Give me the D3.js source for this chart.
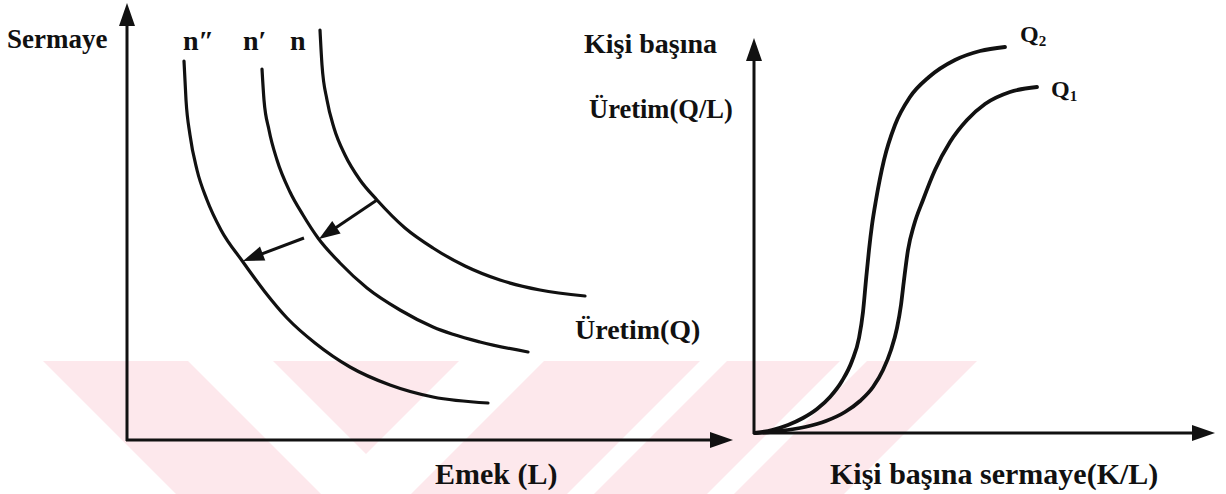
<!DOCTYPE html>
<html><head><meta charset="utf-8">
<script src="https://cdn.jsdelivr.net/npm/d3@7"></script>
<style>
body{margin:0;background:#fff}
svg{display:block}
text{font-family:"Liberation Serif","Times New Roman",serif;font-weight:bold;fill:#111}
</style>
</head><body>
<svg id="c" width="1226" height="494"></svg>
<script>
// ---- Left panel: isoquants (Emek L, Sermaye K) ----
const isoN  = [[193,410],[195,375],[200,340],[207,312],[218,285],[233,260],[250,240],[278,212],[306,192],[338,174],[373,160],[413,150],[458,144]];
const isoN1 = [[135,371],[137,340],[142,310],[150,280],[163,248],[176,225],[191,202],[213,177],[240,152],[273,130],[306,113],[353,98],[401,88]];
const isoN2 = [[57,379],[59,340],[63,305],[70,270],[80,240],[94,210],[116,178],[138,148],[160,122],[188,97],[223,73],[263,55],[306,43],[361,37]];
const isoLabels = ["n\u2033", "n\u2032", "n"];
const shiftArrows = [ {from:[250,240], to:[192,201]}, {from:[177,202], to:[116,179]} ];

// ---- Right panel: per-capita production curves ----
const curveQ2 = [[1,0],[18,3],[34,8],[49,15],[63,24],[76,36],[88,52],[98,72],[105,95],[109,121],[112,153],[115,183],[118,208],[122,233],[130,273],[141,308],[156,336],[175,356],[201,373],[226,382],[251,386]];
const curveQ1 = [[1,0],[26,2],[51,6],[72,12],[91,21],[106,32],[119,46],[129,63],[137,83],[143,105],[147,128],[150,153],[154,183],[160,208],[169,233],[181,263],[196,291],[213,313],[231,329],[256,341],[283,346]];

// ---- watermark stripes (decoration) ----
const wmStripes = [ {dir:1,x0:43,x1:188}, {dir:-1,x0:544,x1:700}, {dir:-1,x0:727,x1:840}, {dir:-1,x0:867,x1:977} ];
const wmTriangle = {x0:273, x1:459};

const svg = d3.select("#c");
svg.append("rect").attr("width",1226).attr("height",494).attr("fill","#fff");

// watermark
const wmTop = 361, wmBot = 494, wmH = wmBot - wmTop;
const wm = svg.append("g").attr("fill","#fde8ec");
wmStripes.forEach(s=>{
  const pts = [[s.x0,wmTop],[s.x1,wmTop],[s.x1+s.dir*wmH,wmBot],[s.x0+s.dir*wmH,wmBot]];
  wm.append("path").attr("d","M"+pts.join("L")+"Z");
});
{
  const t = (wmTriangle.x1-wmTriangle.x0)/2;
  wm.append("path").attr("d",`M${wmTriangle.x0},${wmTop}L${wmTriangle.x1},${wmTop}L${wmTriangle.x0+t},${wmTop+t}Z`);
}

const xL = d3.scaleLinear().domain([0,606]).range([127,733]);
const yL = d3.scaleLinear().domain([0,437]).range([440,3]);
const xR = d3.scaleLinear().domain([0,461]).range([754,1215]);
const yR = d3.scaleLinear().domain([0,395]).range([433,38]);

function axisPair(g, x, y, xMax, yMax, w){
  const x0=x(0), y0=y(0), xt=x(xMax), yt=y(yMax);
  g.append("path").attr("d",`M${x0},${y0+1}V${yt+18}`).attr("stroke","#111").attr("stroke-width",w).attr("fill","none");
  g.append("path").attr("d",`M${x0-1},${y0}H${xt-18}`).attr("stroke","#111").attr("stroke-width",w).attr("fill","none");
  g.append("path").attr("d",`M${x0},${yt}L${x0-8},${yt+23}L${x0+8},${yt+23}Z`).attr("fill","#111");
  g.append("path").attr("d",`M${xt},${y0}L${xt-23},${y0-8}L${xt-23},${y0+8}Z`).attr("fill","#111");
}
const gl = svg.append("g");
axisPair(gl, xL, yL, 606, 437, 3);
const gr = svg.append("g");
axisPair(gr, xR, yR, 461, 395, 3);

// isoquants
const lineL = d3.line().x(d=>xL(d[0])).y(d=>yL(d[1])).curve(d3.curveMonotoneX);
[isoN, isoN1, isoN2].forEach(c=>{
  gl.append("path").attr("d",lineL(c)).attr("fill","none").attr("stroke","#111").attr("stroke-width",3.2).attr("stroke-linecap","round");
});

// shift arrows
shiftArrows.forEach(a=>{
  const x1=xL(a.from[0]), y1=yL(a.from[1]), x2=xL(a.to[0]), y2=yL(a.to[1]);
  const ang = Math.atan2(y2-y1,x2-x1), L=21, W=7.5;
  const bx = x2-L*Math.cos(ang), by = y2-L*Math.sin(ang);
  gl.append("line").attr("x1",x1).attr("y1",y1).attr("x2",bx+3*Math.cos(ang)).attr("y2",by+3*Math.sin(ang)).attr("stroke","#111").attr("stroke-width",3);
  const p1=[bx+W*Math.sin(ang), by-W*Math.cos(ang)], p2=[bx-W*Math.sin(ang), by+W*Math.cos(ang)];
  gl.append("path").attr("d",`M${x2},${y2}L${p1}L${p2}Z`).attr("fill","#111");
});

// right curves
const lineR = d3.line().x(d=>xR(d[0])).y(d=>yR(d[1])).curve(d3.curveMonotoneX);
[curveQ2, curveQ1].forEach(c=>{
  gr.append("path").attr("d",lineR(c)).attr("fill","none").attr("stroke","#111").attr("stroke-width",3.8).attr("stroke-linecap","round");
});

// texts
function txt(s,x,y,size){ return svg.append("text").attr("x",x).attr("y",y).attr("font-size",size).text(s); }
txt("Sermaye",7,48,27);
txt(isoLabels[0],183,50,28);
txt(isoLabels[1],243,50,28);
txt(isoLabels[2],290,50,28);
txt("Üretim(Q)",575,339,28);
txt("Emek (L)",435,484,30);
txt("Kişi başına",584,53,28);
txt("Üretim(Q/L)",589,118,26.5);
txt("Kişi başına sermaye(K/L)",830,484,30);
const q2 = txt("Q",1020,42,24); q2.append("tspan").attr("font-size",15).attr("dy",4).text("2");
const q1 = txt("Q",1051,97,24); q1.append("tspan").attr("font-size",15).attr("dy",4).text("1");
</script>
</body></html>
